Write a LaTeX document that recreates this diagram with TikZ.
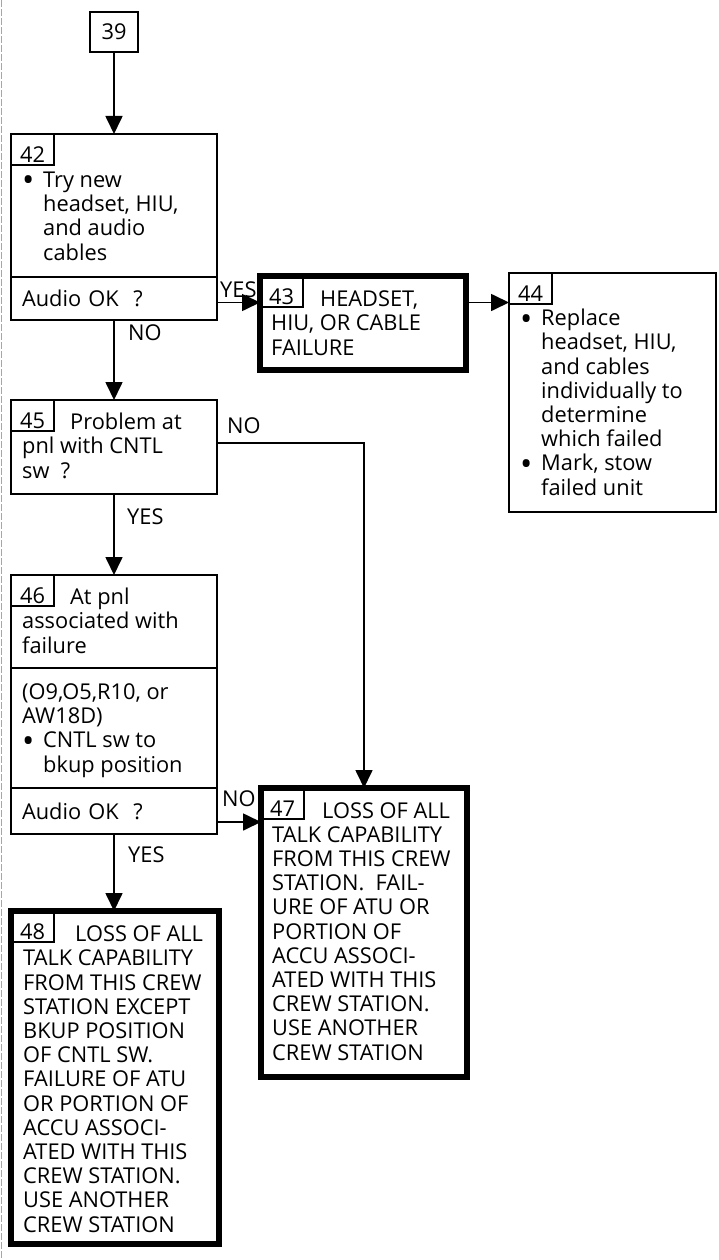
\documentclass[tikz,border=0pt]{standalone}
\usepackage{fontspec}
\usepackage{graphicx}
\setmainfont{Open Sans}
\usetikzlibrary{positioning, arrows.meta}

\newcommand{\bul}{\makebox[21pt][l]{\raisebox{-4.5pt}{\scalebox{1.5}{\textbullet}}}}
\newcommand{\ind}{\hspace*{21pt}}

\begin{document}
\begin{tikzpicture}[
  x=1pt, y=-1pt,
  every node/.style={font=\fontsize{21.8}{24.2}\selectfont},
  arr/.style={-{Triangle[length=18pt, width=17pt]}, line width=1.7pt},
  box/.style={draw, line width=1.7pt, inner sep=0pt, outer sep=0pt, anchor=north west},
  endbox/.style={box, line width=6pt},
  qbox/.style={box, text width=184pt, inner xsep=11pt, minimum height=43pt, align=left},
  numbox/.style={draw, line width=1.4pt, anchor=north west, outer sep=0pt,
                 minimum width=43pt, inner xsep=0pt, inner ysep=2.5pt,
                 text height=26pt, text depth=0pt},
  txt/.style={anchor=base west, inner sep=0pt, align=left},
  lbl/.style={anchor=base west, inner sep=0pt}
]
\useasboundingbox (0,0) rectangle (718,1260);

% ---- page edge ----
\draw[gray!70, line width=1pt, dash pattern=on 7pt off 2pt] (1.5,0) -- (1.5,1260);

% ---- Left column ----
% (text nodes sit on the baseline of their last line)
\node[box, minimum width=48pt, minimum height=40pt] (b39) at (90,12) {39};

\node[box, minimum width=206pt, minimum height=143pt] (b42) at (11,134) {};
\node[qbox, below=0pt of b42] (q42) {Audio OK~~?};
\node[numbox] (n42) at (b42.north west) {42};
\node[txt] (t42) at (22,260)
  {\bul Try new\\\ind headset, HIU,\\\ind and audio\\\ind cables};

\node[box, minimum width=206pt, minimum height=94pt] (b45) at (11,400) {};
\node[numbox] (n45) at (b45.north west) {45};
\node[txt] (t45) at (22,478) {\hspace*{48pt}Problem at\\pnl with CNTL\\sw~~?};

\node[box, minimum width=206pt, minimum height=93pt] (b46) at (11,575) {};
\node[box, minimum width=206pt, minimum height=120pt, below=0pt of b46] (m46) {};
\node[qbox, minimum height=46pt, below=0pt of m46] (q46) {Audio OK~~?};
\node[numbox] (n46) at (b46.north west) {46};
\node[txt] (t46) at (22,653) {\hspace*{48pt}At pnl\\associated with\\failure};
\node[txt] (tm46) at (22,772)
  {(O9,O5,R10, or\\AW18D)\\\bul CNTL sw to\\\ind bkup position};

\node[endbox, minimum width=208pt, minimum height=333pt] (b48) at (11,911) {};
\node[numbox] (n48) at (b48.north west) {48};
\node[txt] (t48) at (23,1232)
  {\hspace*{52pt}LOSS OF ALL\\TALK CAPABILITY\\FROM THIS CREW\\STATION EXCEPT\\BKUP POSITION\\
   OF CNTL SW.\\FAILURE OF ATU\\OR PORTION OF\\ACCU ASSOCI-\\ATED WITH THIS\\CREW STATION.\\
   USE ANOTHER\\CREW STATION};

% ---- Right side ----
\node[endbox, minimum width=206pt, minimum height=94pt] (b43) at (260,276) {};
\node[numbox] (n43) at (b43.north west) {43};
\node[txt] (t43) at (271,355) {\hspace*{49pt}HEADSET,\\HIU, OR CABLE\\FAILURE};

\node[box, minimum width=207pt, minimum height=239pt] (b44) at (509,273) {};
\node[numbox] (n44) at (b44.north west) {44};
\node[txt] (t44) at (520,495)
  {\bul Replace\\\ind headset, HIU,\\\ind and cables\\\ind individually to\\\ind determine\\
   \ind which failed\\\bul Mark, stow\\\ind failed unit};

\node[endbox, minimum width=206pt, minimum height=289pt] (b47) at (261,788) {};
\node[numbox] (n47) at (b47.north west) {47};
\node[txt] (t47) at (272,1060)
  {\hspace*{50pt}LOSS OF ALL\\TALK CAPABILITY\\FROM THIS CREW\\STATION.~~FAIL-\\URE OF ATU OR\\
   PORTION OF\\ACCU ASSOCI-\\ATED WITH THIS\\CREW STATION.\\USE ANOTHER\\CREW STATION};

% ---- Branch labels ----
\node[lbl] (yes42) at (220,297) {YES};
\node[lbl] (no42) at (128,340) {NO};
\node[lbl] (no45) at (227,433) {NO};
\node[lbl] (yes45) at (127,524) {YES};
\node[lbl] (no46) at (222,806) {NO};
\node[lbl] (yes46) at (128,862) {YES};

% ---- Connectors ----
\draw[arr] (b39.south) -- (b39.south |- b42.north);
\draw[arr] ([yshift=-4pt]q42.east) -- ([yshift=-4pt]q42.east -| b43.west);
\draw[arr] ([yshift=-4pt]q42.east -| b43.east) -- ([yshift=-4pt]q42.east -| b44.west);
\draw[arr] (q42.south) -- (b45.north);
\draw[arr] ([yshift=4pt]b45.east) -| (b47.north);
\draw[arr] (b45.south) -- (b46.north);
\draw[arr] ([yshift=-11pt]q46.east) -- ([yshift=-11pt]q46.east -| b47.west);
\draw[arr] (q46.south) -- (q46.south |- b48.north);

\end{tikzpicture}
\end{document}
